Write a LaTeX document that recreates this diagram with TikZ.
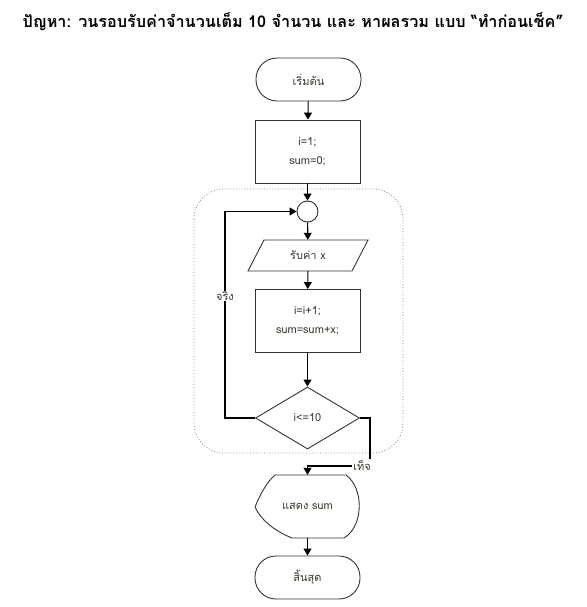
\documentclass[tikz,border=0pt]{standalone}
\usepackage{fontspec}
\setmainfont{Loma}[Script=Thai]
\usetikzlibrary{shapes.geometric,arrows.meta}
\definecolor{txt}{rgb}{0.22,0.22,0.18}
\definecolor{edge}{rgb}{0.2,0.2,0.2}
\tikzset{
  base/.style={draw=edge,line width=0.9pt,text=txt,font=\fontsize{11}{13}\selectfont,inner sep=0pt},
  term/.style={base,rounded corners=21pt,minimum width=105pt,minimum height=43pt},
  proc/.style={base,minimum width=105pt,minimum height=63pt,align=center},
  dec/.style={base,diamond,minimum width=104pt,minimum height=62pt},
  lbl/.style={fill=white,text=txt,font=\fontsize{11}{13}\selectfont,inner sep=1pt},
  arr/.style={line width=1.1pt,-{Triangle[length=7pt,width=8pt]}},
  ln/.style={line width=1.1pt},
}
\begin{document}
\begin{tikzpicture}[x=1pt,y=-1pt]
\useasboundingbox (0,0) rectangle (586,607);
% title
\node[font=\fontsize{16.2}{19}\selectfont\bfseries] (title) at (293,22) {ปัญหา: วนรอบรับค่าจำนวนเต็ม 10 จำนวน และ หาผลรวม แบบ “ทำก่อนเช็ค”};
% dotted loop frame
\draw[gray,dotted,line width=0.8pt,rounded corners=30pt] (194,189) rectangle (403,453);
% nodes
\node[term] (start) at (308.5,79.5) {เริ่มต้น};
\node[proc] (init) at (307.5,151.5) {i=1;\\[6pt]sum=0;};
\node[base,circle,minimum size=21pt] (join) at (307.5,211.5) {};
\node[text=txt,font=\fontsize{11}{13}\selectfont,minimum width=100pt,minimum height=31pt,inner sep=0pt] (inp) at (308,255.5) {รับค่า x};
\draw[draw=edge,line width=0.9pt] (264,240) -- (368,240) -- (352,271) -- (248,271) -- cycle;
\node[proc] (upd) at (307.5,321) {i=i+1;\\[6pt]sum=sum+x;};
\node[dec] (cond) at (307.5,418) {i<=10};
\node[text=txt,font=\fontsize{11}{13}\selectfont,minimum width=105pt,minimum height=63pt,inner sep=0pt] (disp) at (307.5,506.5) {แสดง sum};
\draw[draw=edge,line width=0.9pt] (275,475) -- (346,475)
  .. controls (364,488) and (364,526) .. (344,538) -- (292,538)
  .. controls (272,530) and (260,518) .. (255,507)
  .. controls (260,495) and (266,483) .. (275,475) -- cycle;
\node[term] (stop) at (307.5,577.5) {สิ้นสุด};
% connectors
\draw[arr] (start) -- (init);
\draw[arr] (init) -- (join);
\draw[arr] (join) -- (inp);
\draw[arr] (inp) -- (upd);
\draw[arr] (upd) -- (cond);
\coordinate (lc) at (225,418);
\draw[arr] (cond.west) -- (lc) |- (join.west);
\node[lbl] (yes) at (225,296) {จริง};
\coordinate (rc) at (370,418);
\coordinate (rb) at (370,466);
\draw[arr] (cond.east) -- (rc) -- (rb) -| (disp.north);
\node[lbl] (no) at (362,465) {เท็จ};
\draw[arr] (disp) -- (stop);
\end{tikzpicture}
\end{document}
